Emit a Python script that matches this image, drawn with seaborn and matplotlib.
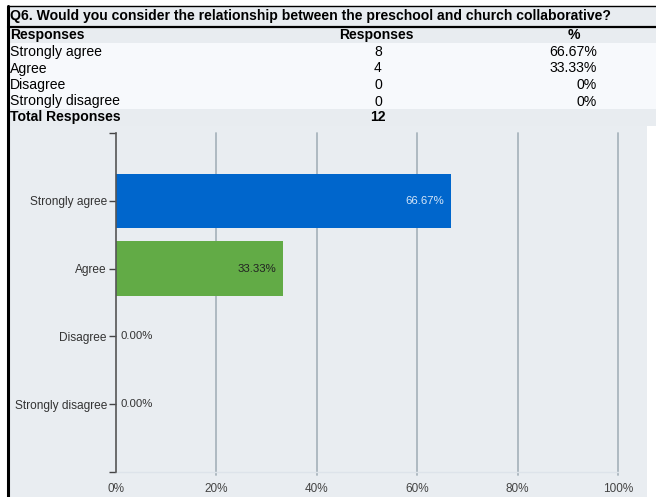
import matplotlib
matplotlib.use("Agg")
import matplotlib.pyplot as plt
from matplotlib.patches import Rectangle
from matplotlib.lines import Line2D
import seaborn as sns
import pandas as pd

title = "Q6. Would you consider the relationship between the preschool and church collaborative?"
categories = ["Strongly agree", "Agree", "Disagree", "Strongly disagree"]
counts = [8, 4, 0, 0]
pct_table = ["66.67%", "33.33%", "0%", "0%"]
percents = [66.67, 33.33, 0.0, 0.0]
total = 12
bar_colors = ["#0066cc", "#62ab46", "#62ab46", "#62ab46"]
xticks = [0, 20, 40, 60, 80, 100]
xtick_labels = ["0%", "20%", "40%", "60%", "80%", "100%"]

sns.set_style("white")
plt.rcParams["font.family"] = ["Liberation Sans", "DejaVu Sans"]
plt.rcParams["text.color"] = "black"

W, H = 656, 497
fig = plt.figure(figsize=(W / 100, H / 100), dpi=100)
fig.patch.set_facecolor("white")

def fy(y):
    return 1 - y / H

def fx(x):
    return x / W

def rect(x0, y0, x1, y1, color):
    fig.patches.append(Rectangle((fx(x0), fy(y1)), fx(x1) - fx(x0), fy(y0) - fy(y1),
                                 transform=fig.transFigure, facecolor=color,
                                 edgecolor="none", zorder=-5))

bg_grey = "#e8ecf0"
rect(8, 6, 656, 43, bg_grey)
rect(8, 43, 656, 109, "#f7f9fc")
rect(8, 109, 656, 126, bg_grey)
rect(8, 126, 647, 497, "#e9edf1")

fig.lines.append(Line2D([fx(8), fx(656)], [fy(6), fy(6)], transform=fig.transFigure,
                        color="black", lw=1.0))
fig.lines.append(Line2D([fx(8), fx(656)], [fy(26.5), fy(26.5)], transform=fig.transFigure,
                        color="black", lw=1.6))
fig.lines.append(Line2D([fx(8), fx(8)], [fy(6), fy(497)], transform=fig.transFigure,
                        color="black", lw=2.2))

tfs = 10.1
fig.text(fx(10), fy(16), title, fontsize=10.1, fontweight="bold", va="center", ha="left")
fig.text(fx(10), fy(35), "Responses", fontsize=tfs, fontweight="bold", va="center", ha="left")
fig.text(fx(376), fy(35), "Responses", fontsize=tfs, fontweight="bold", va="center", ha="center")
fig.text(fx(574), fy(35), "%", fontsize=tfs, fontweight="bold", va="center", ha="center")
row_y = [52, 68.5, 85, 101.5]
for yy, cat, c, p in zip(row_y, categories, counts, pct_table):
    fig.text(fx(10), fy(yy), cat, fontsize=tfs, va="center", ha="left")
    fig.text(fx(378), fy(yy), str(c), fontsize=tfs, va="center", ha="center")
    fig.text(fx(597), fy(yy), p, fontsize=tfs, va="center", ha="right")
fig.text(fx(10), fy(117), "Total Responses", fontsize=tfs, fontweight="bold", va="center", ha="left")
fig.text(fx(378), fy(117), str(total), fontsize=tfs, fontweight="bold", va="center", ha="center")

# chart axes
ax = fig.add_axes([fx(116), fy(472), fx(618) - fx(116), fy(133) - fy(472)])
ax.set_zorder(5)
ax.set_facecolor("none")
df = pd.DataFrame({"category": categories, "percent": percents})
sns.barplot(data=df, x="percent", y="category", hue="category", palette=bar_colors,
            order=categories, orient="h", width=0.8, legend=False, ax=ax, zorder=2,
            saturation=1, linewidth=0, edgecolor="none")
ax.set_xlim(0, 100)
ax.set_ylim(4, -1)
ax.set_xticks(xticks)
ax.set_xticklabels(xtick_labels)
ax.set_yticks([-1, 0, 1, 2, 3, 4])
ax.set_yticklabels([""] + categories + [""])
ax.set_xlabel("")
ax.set_ylabel("")
for x in xticks[1:]:
    ax.axvline(x, color="#a9b5bd", lw=1.3, zorder=1, ymin=-0.008, clip_on=False)
for s in ["top", "right"]:
    ax.spines[s].set_visible(False)
ax.spines["left"].set_color("#555555")
ax.spines["left"].set_linewidth(1.2)
ax.spines["left"].set_zorder(4)
ax.spines["bottom"].set_color("#dde3ea")
ax.spines["bottom"].set_linewidth(1.0)
ax.tick_params(axis="y", left=True, length=5, width=1.0, color="#444444", labelsize=8.6,
               labelcolor="#333333", pad=1.5)
ax.tick_params(axis="x", bottom=False, length=0, labelsize=8.5, labelcolor="#444444", pad=8)

label_colors = ["#d6e6f8", "#222222"]
for i, (cat, p) in enumerate(zip(categories, percents)):
    txt = f"{p:.2f}%"
    if p > 0:
        ax.text(p - 1.4, i, txt, ha="right", va="center", fontsize=8.2,
                color=label_colors[i] if i < 2 else "#222222", zorder=4)
    else:
        ax.text(0.8, i, txt, ha="left", va="center", fontsize=8.2, color="#333333", zorder=4)

fig.savefig("out.png", dpi=100)
